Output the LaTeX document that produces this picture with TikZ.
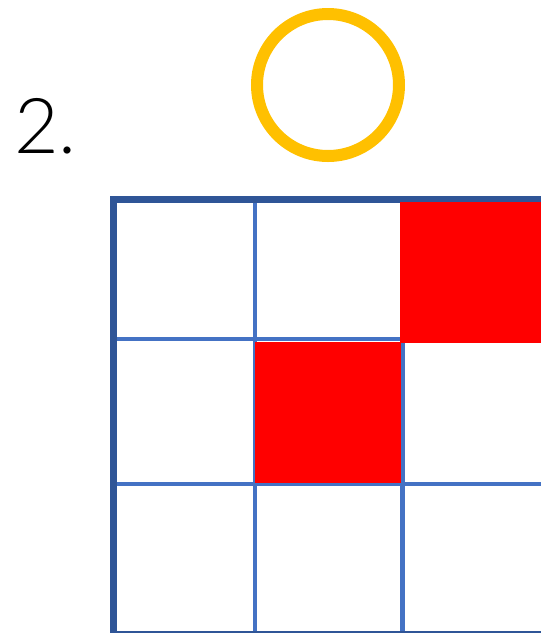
\documentclass[tikz,border=0pt]{standalone}
\usepackage{fontspec}
\setmainfont{Lato Light}
\definecolor{outerblue}{RGB}{47,85,151}
\definecolor{innerblue}{RGB}{68,114,196}
\definecolor{ringyellow}{RGB}{255,192,0}
\definecolor{cellred}{RGB}{255,0,0}
\tikzset{
  outerline/.style={draw=outerblue, line width=7pt},
  innerline/.style={draw=innerblue, line width=4.3pt},
  redcell/.style={fill=cellred, draw=none},
  ring/.style={draw=ringyellow, line width=12pt},
}
\begin{document}
\begin{tikzpicture}[x=1pt,y=-1pt]
\useasboundingbox (0,0) rectangle (541,633);
\clip (0,0) rectangle (541,633);
% ring
\draw[ring] (328,85) circle[radius=71];
% label
\node[anchor=base west, inner sep=0pt, font=\fontsize{77}{77}\selectfont] (lbl) at (14,153.3) {2.};
% inner grid lines
\draw[innerline] (254.7,200) -- (254.7,640);
\draw[innerline] (402.5,200) -- (402.5,640);
\draw[innerline] (113,339.2) -- (545,339.2);
\draw[innerline] (113,483.9) -- (545,483.9);
% red cells
\fill[redcell] (400,201.7) rectangle (545,343.3);
\fill[redcell] (255,341.5) rectangle (400.7,483);
% outer border
\draw[outerline] (113.5,196) -- (113.5,640);
\draw[outerline] (110,199.5) -- (545,199.5);
\fill[cellred] (400,202.1) rectangle (545,203.5);
\draw[outerline] (110,634.3) -- (545,634.3);
\end{tikzpicture}
\end{document}
